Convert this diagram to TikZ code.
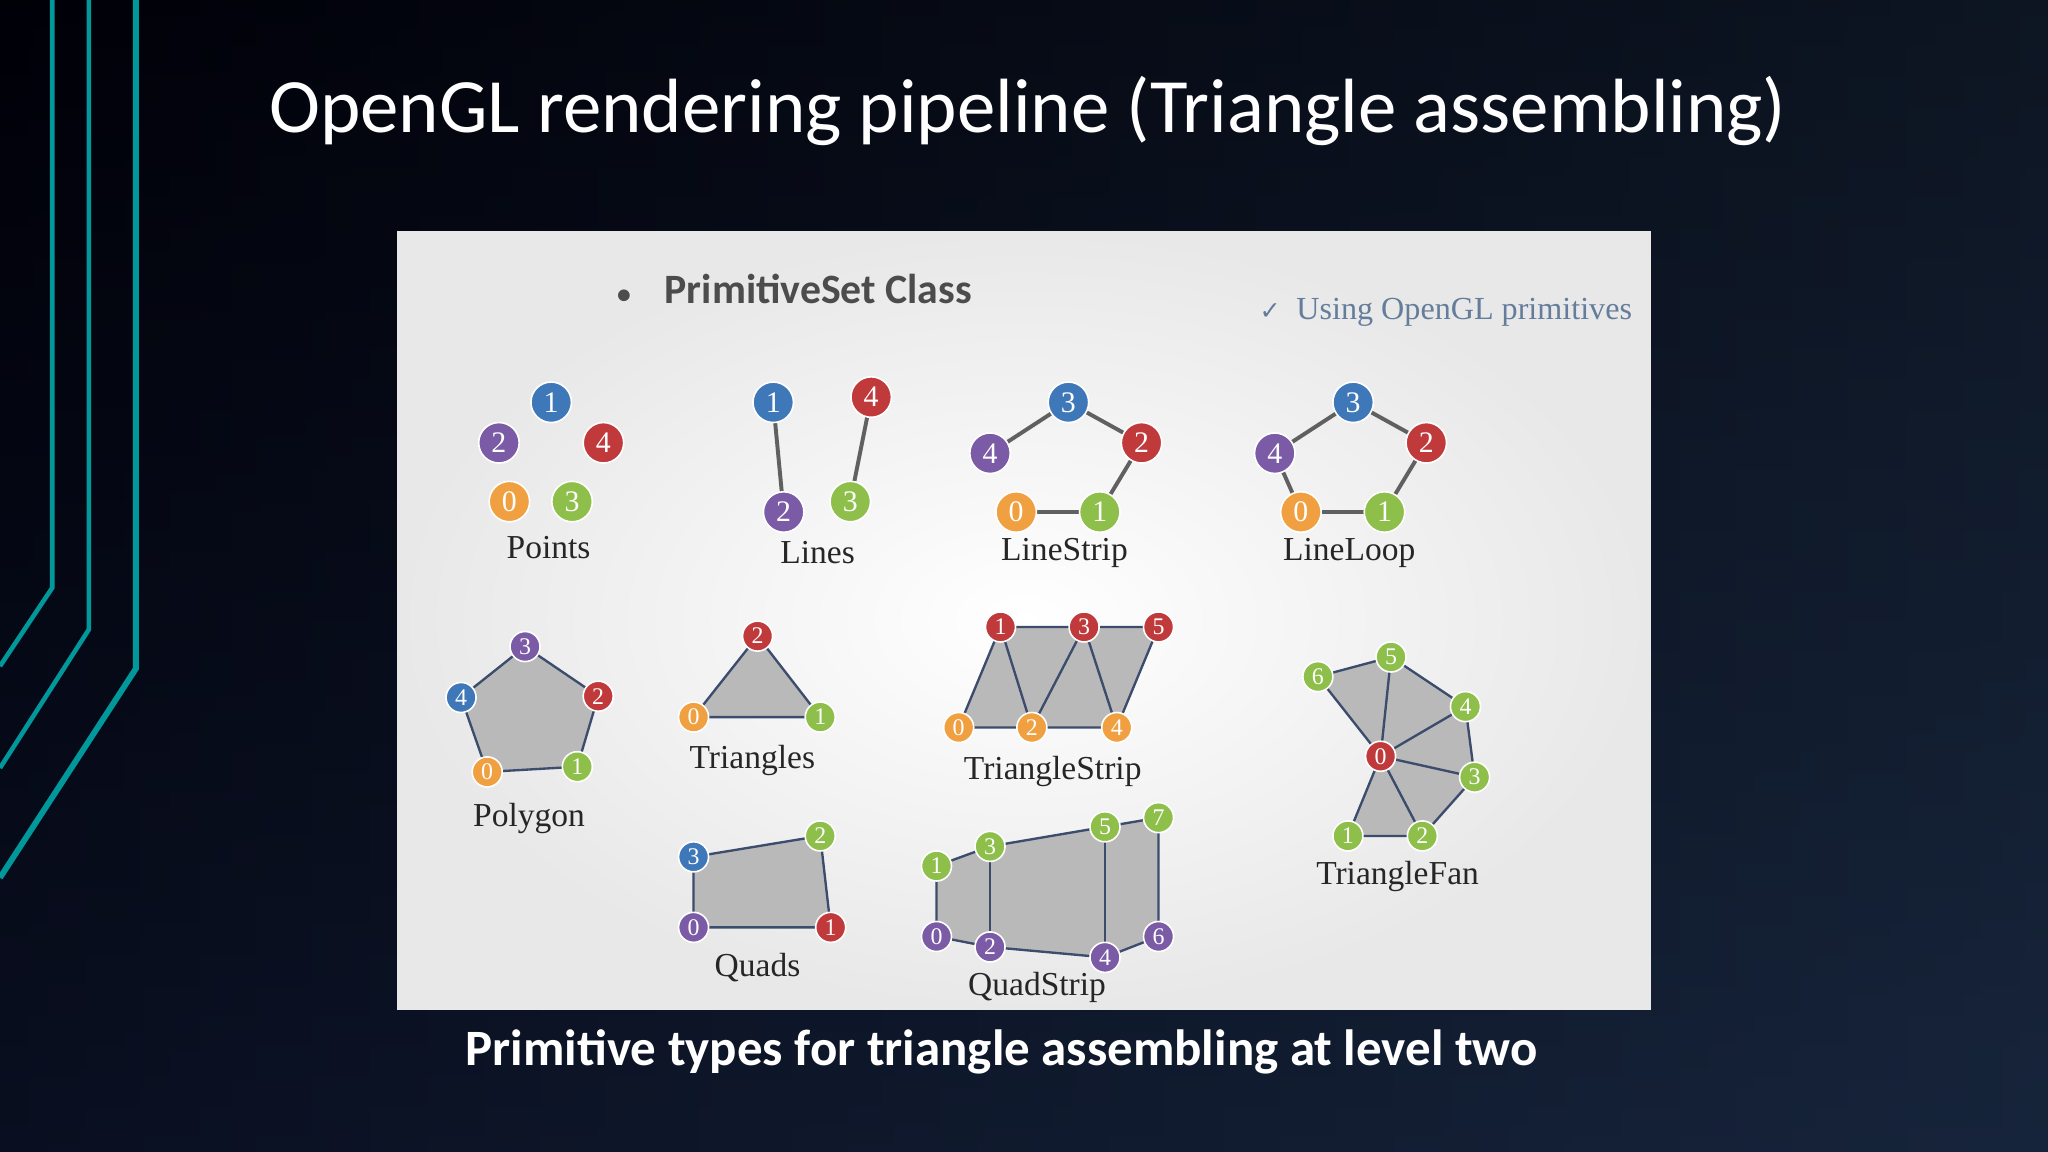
\documentclass[tikz,border=0pt]{standalone}
\usepackage{fontspec}
\setmainfont{Liberation Serif}
\newfontfamily\calib{Carlito}
\newfontfamily\djv{DejaVu Sans}
\usetikzlibrary{backgrounds}
\pgfdeclarelayer{bgl}\pgfdeclarelayer{edl}
\pgfsetlayers{bgl,edl,main}
\definecolor{cblue}{HTML}{3F78B8}
\definecolor{cpurp}{HTML}{7B5AA6}
\definecolor{cred}{HTML}{C0393B}
\definecolor{corng}{HTML}{F0A040}
\definecolor{cgrn}{HTML}{8DBF4A}
\definecolor{teal1}{HTML}{00989A}
\definecolor{edge2}{HTML}{3C4C6C}
\tikzset{
 vx/.style={circle,draw=white,line width=0.35pt,minimum size=3.1mm,inner sep=0pt,text=white,font=\fontsize{6.5}{7}\selectfont},
 vs/.style={vx,minimum size=2.3mm,font=\fontsize{5.2}{6}\selectfont},
 B/.style={fill=cblue},P/.style={fill=cpurp},R/.style={fill=cred},O/.style={fill=corng},G/.style={fill=cgrn},
 e1/.style={draw=gray!75!black,line width=0.3mm},
 e2/.style={draw=edge2,line width=0.18mm,fill=gray!55},
 e3/.style={draw=edge2,line width=0.18mm},
 lab/.style={font=\fontsize{7.3}{8}\selectfont,text=black!85}
}
\begin{document}
\begin{tikzpicture}[x=0.1mm,y=-0.1mm]
\useasboundingbox (0,0) rectangle (1568,882);
\begin{pgfonlayer}{bgl}
\shade[left color=black!95!blue, right color={rgb,255:red,22;green,36;blue,58}] (0,0) rectangle (1568,882);
\shade[top color=black,bottom color={rgb,255:red,24;green,38;blue,62},opacity=0.4] (0,0) rectangle (1568,882);
\draw[teal1,line width=0.35mm] (40,0)--(40,450)--(0,510);
\draw[teal1,line width=0.35mm] (68,0)--(68,482)--(0,588);
\draw[teal1,line width=0.45mm] (104,0)--(104,512)--(0,672);
\shade[inner color=white,outer color=gray!18] (304,177) rectangle (1264,773);
\end{pgfonlayer}
\node[text=white,font=\calib\fontsize{16.75}{20}\selectfont] (title) at (787,85) {OpenGL rendering pipeline (Triangle assembling)};
\node[text=white,font=\calib\bfseries\fontsize{11.1}{13}\selectfont] (cap) at (767,805) {Primitive types for triangle assembling at level two};
\node[text=gray!60!black,font=\calib\bfseries\fontsize{9.1}{10}\selectfont,anchor=west] (ps) at (460,221) {{\fontsize{6}{7}\selectfont\textbullet}\hspace{2.6mm}PrimitiveSet Class};
\node[text={rgb,255:red,100;green,125;blue,155},font=\fontsize{7}{8}\selectfont,anchor=west] (ogl) at (952,239) {{\djv\fontsize{5.5}{6}\selectfont ✓}\hspace{1.2mm}Using OpenGL primitives};
% Points
\node[vx,B] (a1) at (422,308) {1};\node[vx,P] (a2) at (382,339) {2};\node[vx,R] (a4) at (462,339) {4};
\node[vx,O] (a0) at (390,384) {0};\node[vx,G] (a3) at (438,384) {3};
\node[lab] (la) at (420,419) {Points};
% Lines
\node[vx,B] (b1) at (592,308) {1};\node[vx,R] (b4) at (667,304) {4};\node[vx,P] (b2) at (600,392) {2};\node[vx,G] (b3) at (651,384) {3};
\node[lab] (lb) at (626,423) {Lines};
% LineStrip
\node[vx,B] (c3) at (818,308) {3};\node[vx,P] (c4) at (758,347) {4};\node[vx,R] (c2) at (874,339) {2};\node[vx,O] (c0) at (778,392) {0};\node[vx,G] (c1) at (842,392) {1};
\node[lab] (lc) at (815,423) {LineStrip};
% LineLoop
\node[vx,B] (d3) at (1036,308) {3};\node[vx,P] (d4) at (976,347) {4};\node[vx,R] (d2) at (1092,339) {2};\node[vx,O] (d0) at (996,392) {0};\node[vx,G] (d1) at (1060,392) {1};
\node[lab] (ld) at (1033,423) {LineLoop};
% Polygon
\node[vs,P] (f3) at (402,495) {3};\node[vs,B] (f4) at (353,534) {4};\node[vs,R] (f2) at (458,533) {2};\node[vs,O] (f0) at (373,591) {0};\node[vs,G] (f1) at (442,587) {1};
\node[lab] (lf) at (405,627) {Polygon};
% Triangles
\node[vs,R] (g2) at (580,487) {2};\node[vs,O] (g0) at (531,549) {0};\node[vs,G] (g1) at (628,549) {1};
\node[lab] (lg) at (576,582) {Triangles};
% TriangleStrip
\node[vs,R] (h1) at (766,480) {1};\node[vs,R] (h3) at (830,480) {3};\node[vs,R] (h5) at (887,480) {5};
\node[vs,O] (h0) at (734,557) {0};\node[vs,O] (h2) at (790,557) {2};\node[vs,O] (h4) at (855,557) {4};
\node[lab] (lh) at (806,591) {TriangleStrip};
% TriangleFan
\node[vs,R] (k0) at (1057,579) {0};\node[vs,G] (k6) at (1009,518) {6};\node[vs,G] (k5) at (1065,503) {5};\node[vs,G] (k4) at (1122,541) {4};
\node[vs,G] (k3) at (1129,595) {3};\node[vs,G] (k2) at (1089,640) {2};\node[vs,G] (k1) at (1032,640) {1};
\node[lab] (lk) at (1070,671) {TriangleFan};
% Quads
\node[vs,B] (q3) at (531,656) {3};\node[vs,G] (q2) at (628,640) {2};\node[vs,R] (q1) at (636,710) {1};\node[vs,P] (q0) at (531,710) {0};
\node[lab] (lq) at (580,741) {Quads};
% QuadStrip
\node[vs,G] (s1) at (717,663) {1};\node[vs,G] (s3) at (758,648) {3};\node[vs,G] (s5) at (846,633) {5};\node[vs,G] (s7) at (887,626) {7};
\node[vs,P] (s0) at (717,717) {0};\node[vs,P] (s2) at (758,725) {2};\node[vs,P] (s4) at (846,733) {4};\node[vs,P] (s6) at (887,717) {6};
\node[lab] (ls) at (794,756) {QuadStrip};
\begin{pgfonlayer}{edl}
\draw[e1] (b1.center)--(b2.center) (b4.center)--(b3.center);
\draw[e1] (c0.center)--(c1.center)--(c2.center)--(c3.center)--(c4.center);
\draw[e1] (d0.center)--(d1.center)--(d2.center)--(d3.center)--(d4.center)--cycle;
\draw[e2] (f0.center)--(f1.center)--(f2.center)--(f3.center)--(f4.center)--cycle;
\draw[e2] (g0.center)--(g1.center)--(g2.center)--cycle;
\draw[e2] (h0.center)--(h1.center)--(h3.center)--(h5.center)--(h4.center)--(h2.center)--cycle;
\draw[e3] (h1.center)--(h2.center)--(h3.center)--(h4.center);
\draw[e2] (k0.center)--(k6.center)--(k5.center)--(k4.center)--(k3.center)--(k2.center)--(k1.center)--cycle;
\draw[e3] (k0.center)--(k5.center) (k0.center)--(k4.center) (k0.center)--(k3.center) (k0.center)--(k2.center);
\draw[e2] (q0.center)--(q1.center)--(q2.center)--(q3.center)--cycle;
\draw[e2] (s0.center)--(s1.center)--(s3.center)--(s5.center)--(s7.center)--(s6.center)--(s4.center)--(s2.center)--cycle;
\draw[e3] (s3.center)--(s2.center) (s5.center)--(s4.center);
\end{pgfonlayer}
\end{tikzpicture}
\end{document}
